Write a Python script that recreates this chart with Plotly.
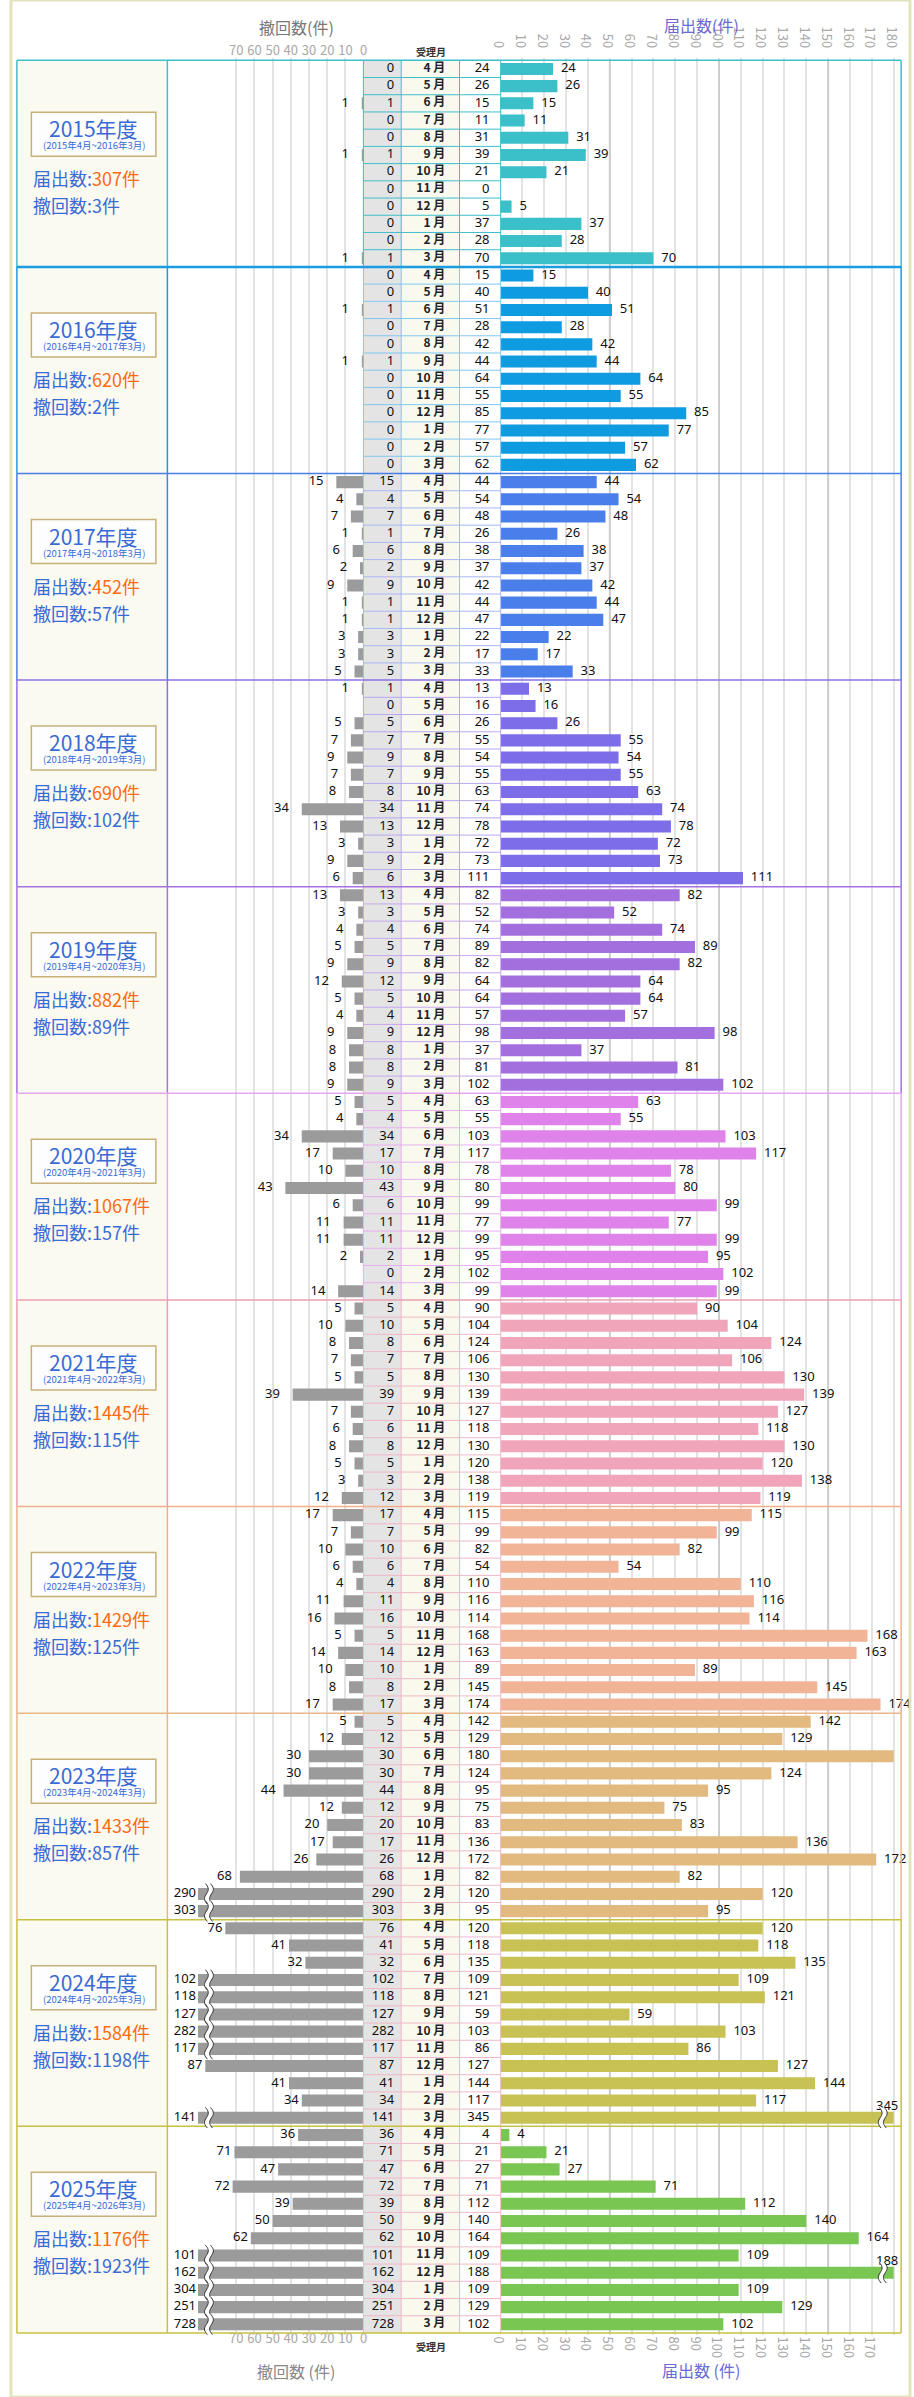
import math
import plotly.graph_objects as go

# ---------------- data ----------------
FISCAL_YEARS = [2015, 2016, 2017, 2018, 2019, 2020, 2021, 2022, 2023, 2024, 2025]
MONTHS = [4, 5, 6, 7, 8, 9, 10, 11, 12, 1, 2, 3]

filings_2015 = [24, 26, 15, 11, 31, 39, 21, 0, 5, 37, 28, 70]
filings_2016 = [15, 40, 51, 28, 42, 44, 64, 55, 85, 77, 57, 62]
filings_2017 = [44, 54, 48, 26, 38, 37, 42, 44, 47, 22, 17, 33]
filings_2018 = [13, 16, 26, 55, 54, 55, 63, 74, 78, 72, 73, 111]
filings_2019 = [82, 52, 74, 89, 82, 64, 64, 57, 98, 37, 81, 102]
filings_2020 = [63, 55, 103, 117, 78, 80, 99, 77, 99, 95, 102, 99]
filings_2021 = [90, 104, 124, 106, 130, 139, 127, 118, 130, 120, 138, 119]
filings_2022 = [115, 99, 82, 54, 110, 116, 114, 168, 163, 89, 145, 174]
filings_2023 = [142, 129, 180, 124, 95, 75, 83, 136, 172, 82, 120, 95]
filings_2024 = [120, 118, 135, 109, 121, 59, 103, 86, 127, 144, 117, 345]
filings_2025 = [4, 21, 27, 71, 112, 140, 164, 109, 188, 109, 129, 102]

withdrawals_2015 = [0, 0, 1, 0, 0, 1, 0, 0, 0, 0, 0, 1]
withdrawals_2016 = [0, 0, 1, 0, 0, 1, 0, 0, 0, 0, 0, 0]
withdrawals_2017 = [15, 4, 7, 1, 6, 2, 9, 1, 1, 3, 3, 5]
withdrawals_2018 = [1, 0, 5, 7, 9, 7, 8, 34, 13, 3, 9, 6]
withdrawals_2019 = [13, 3, 4, 5, 9, 12, 5, 4, 9, 8, 8, 9]
withdrawals_2020 = [5, 4, 34, 17, 10, 43, 6, 11, 11, 2, 0, 14]
withdrawals_2021 = [5, 10, 8, 7, 5, 39, 7, 6, 8, 5, 3, 12]
withdrawals_2022 = [17, 7, 10, 6, 4, 11, 16, 5, 14, 10, 8, 17]
withdrawals_2023 = [5, 12, 30, 30, 44, 12, 20, 17, 26, 68, 290, 303]
withdrawals_2024 = [76, 41, 32, 102, 118, 127, 282, 117, 87, 41, 34, 141]
withdrawals_2025 = [36, 71, 47, 72, 39, 50, 62, 101, 162, 304, 251, 728]

LEFT_TICKS = [0, 10, 20, 30, 40, 50, 60, 70]
RIGHT_TICKS_TOP = [0, 10, 20, 30, 40, 50, 60, 70, 80, 90, 100, 110, 120, 130, 140, 150, 160, 170, 180]
RIGHT_TICKS_BOTTOM = [0, 10, 20, 30, 40, 50, 60, 70, 80, 90, 100, 110, 120, 130, 140, 150, 160, 170]

FILINGS = [filings_2015, filings_2016, filings_2017, filings_2018, filings_2019, filings_2020,
           filings_2021, filings_2022, filings_2023, filings_2024, filings_2025]
WITHDRAWALS = [withdrawals_2015, withdrawals_2016, withdrawals_2017, withdrawals_2018,
               withdrawals_2019, withdrawals_2020, withdrawals_2021, withdrawals_2022,
               withdrawals_2023, withdrawals_2024, withdrawals_2025]

# ---------------- style ----------------
BAR_COLORS = ["#3bbfc9", "#0e9be0", "#4a7eea", "#7d6de8", "#a36fdf", "#df82ea",
              "#f0a5ba", "#f2b497", "#e2b97e", "#c8c255", "#7ac653"]
FRAME_COLORS = ["#3cc0cc", "#1b9be0", "#4a7ee8", "#8d6fe8", "#a872e0", "#e6a6f0",
                "#eb9fb0", "#f0b090", "#e8b888", "#c8c040", "#c8c040"]
CELL_COLORS = ["#3cc0cc", "#80c8f0", "#a8b8f4", "#b8a8f0", "#c8a8f0", "#e8b0f0",
               "#f0b8c8", "#f0b8c8", "#f0b8c8", "#f0b8c8", "#f0b8c8"]
FRAME_WIDTH = [1.5, 2.5, 1.5, 1.5, 1.5, 1.5, 1.5, 1.5, 1.5, 1.5, 1.5]
LEFT_LABEL_GAP = [13, 13, 13, 13, 13, 13, 13, 13, 8, 3, 3]
CAPPED_LABEL_GAP = 2
PANEL_SHIFT = [6, 0, 0, 0, 0, 0, 0, 0, 0, 0, 0]

W, H = 914, 2397
TABLE_TOP = 60.3
ROW_H = 17.217
N_SEC = len(FISCAL_YEARS)
N_ROWS = 12 * N_SEC
TABLE_BOTTOM = TABLE_TOP + N_ROWS * ROW_H
PAD = 2.0

X_FRAME_L, X_PANEL = 6.0, 159.0
X_GRAY, X_MONTH, X_COUNT, X_RB0, X_FRAME_R = 358.3, 396.7, 456.0, 497.8, 905.0
LEFT_ZERO, LEFT_PPU, LEFT_CAP, LEFT_BREAK = 358.5, 1.85, 91, 85
RIGHT_PPU, RIGHT_CAP, RIGHT_BREAK = 2.22, 180, 175

JP = "Noto Sans CJK JP"
NUM = "Noto Sans, Noto Sans CJK JP"
TICKF = "Liberation Sans Narrow, Noto Sans CJK JP"
BLUE = "#3a6bd4"
ORANGE = "#ff6a13"


def py2paper(py):
    return 1 - py / H


def off2row(s, off):
    return 12 * s - 0.5 + off / ROW_H


fig = go.Figure()

rows = [12 * s + i for s in range(N_SEC) for i in range(12)]
w_all = [v for lst in WITHDRAWALS for v in lst]
f_all = [v for lst in FILINGS for v in lst]
bar_cols = [BAR_COLORS[s] for s in range(N_SEC) for _ in range(12)]

# bars
fig.add_trace(go.Bar(orientation="h", y=rows, x=[min(v, LEFT_CAP) for v in w_all],
                     xaxis="x2", yaxis="y", width=0.7,
                     marker=dict(color="#9b9b9b", line=dict(width=0)),
                     hoverinfo="skip", showlegend=False))
fig.add_trace(go.Bar(orientation="h", y=rows, x=[min(v, RIGHT_CAP) for v in f_all],
                     xaxis="x3", yaxis="y", width=0.7,
                     marker=dict(color=bar_cols, line=dict(width=0)),
                     hoverinfo="skip", showlegend=False))

# bar labels
lx, ly, lt = [], [], []
rx, ry, rt = [], [], []
cx, cy, ct = [], [], []
for s in range(N_SEC):
    for i in range(12):
        r = 12 * s + i
        v = WITHDRAWALS[s][i]
        if v > 0:
            gap = CAPPED_LABEL_GAP if v > LEFT_CAP else LEFT_LABEL_GAP[s]
            lx.append(min(v, LEFT_CAP) + gap / LEFT_PPU)
            ly.append(r)
            lt.append(str(v))
        f = FILINGS[s][i]
        if f > RIGHT_CAP:
            cx.append(RIGHT_CAP - 3)
            cy.append(r - 0.62)
            ct.append(str(f))
        elif f > 0:
            rx.append(f + 8 / RIGHT_PPU)
            ry.append(r)
            rt.append(str(f))

lab_font = dict(family=NUM, size=13, color="#111111")
fig.add_trace(go.Scatter(x=lx, y=ly, text=lt, mode="text", textposition="middle left",
                         xaxis="x2", yaxis="y", textfont=lab_font, cliponaxis=False,
                         hoverinfo="skip", showlegend=False))
fig.add_trace(go.Scatter(x=rx, y=ry, text=rt, mode="text", textposition="middle right",
                         xaxis="x3", yaxis="y", textfont=lab_font, cliponaxis=False,
                         hoverinfo="skip", showlegend=False))
fig.add_trace(go.Scatter(x=cx, y=cy, text=ct, mode="text", textposition="middle center",
                         xaxis="x3", yaxis="y", textfont=lab_font, cliponaxis=False,
                         hoverinfo="skip", showlegend=False))

# table cell texts (pixel x-axis)
cell_font = dict(family=NUM, size=13, color="#111111")
fig.add_trace(go.Scatter(x=[389.5] * N_ROWS, y=rows, text=[str(v) for v in w_all],
                         mode="text", textposition="middle left", xaxis="x", yaxis="y",
                         textfont=cell_font, cliponaxis=False, hoverinfo="skip", showlegend=False))
fig.add_trace(go.Scatter(x=[441.5] * N_ROWS, y=rows,
                         text=[f"{m} 月" for _ in range(N_SEC) for m in MONTHS],
                         mode="text", textposition="middle left", xaxis="x", yaxis="y",
                         textfont=dict(family=JP, size=12, color="#222222", weight="bold"),
                         cliponaxis=False, hoverinfo="skip", showlegend=False))
fig.add_trace(go.Scatter(x=[486.5] * N_ROWS, y=rows, text=[str(v) for v in f_all],
                         mode="text", textposition="middle left", xaxis="x", yaxis="y",
                         textfont=cell_font, cliponaxis=False, hoverinfo="skip", showlegend=False))

# dummy traces for bottom tick axes
fig.add_trace(go.Scatter(x=[None], y=[None], xaxis="x4", yaxis="y", mode="markers",
                         hoverinfo="skip", showlegend=False))
fig.add_trace(go.Scatter(x=[None], y=[None], xaxis="x5", yaxis="y", mode="markers",
                         hoverinfo="skip", showlegend=False))

shapes = []
Y_TOP, Y_BOT = -0.5, N_ROWS - 0.5

# column fills
shapes.append(dict(type="rect", xref="x", yref="y", x0=X_FRAME_L, x1=X_PANEL, y0=Y_TOP, y1=Y_BOT,
                   fillcolor="#fafaf0", line=dict(width=0), layer="below"))
shapes.append(dict(type="rect", xref="x", yref="y", x0=X_GRAY, x1=X_MONTH, y0=Y_TOP, y1=Y_BOT,
                   fillcolor="#e4e4e4", line=dict(width=0), layer="below"))
shapes.append(dict(type="rect", xref="x", yref="y", x0=X_MONTH, x1=X_COUNT, y0=Y_TOP, y1=Y_BOT,
                   fillcolor="#f9f9ee", line=dict(width=0), layer="below"))

# darker grid lines every 50 on the right
for v in (50, 100, 150):
    shapes.append(dict(type="line", xref="x3", yref="y", x0=v, x1=v, y0=Y_TOP, y1=Y_BOT,
                       line=dict(color="#cdcdcd", width=2), layer="between"))

# cell borders
for s in range(N_SEC):
    segs = []
    for k in range(1, 12):
        yb = 12 * s - 0.5 + k
        segs.append(f"M{X_GRAY},{yb} L{X_RB0},{yb}")
    y0, y1 = 12 * s - 0.5, 12 * s + 11.5
    for xv in (X_GRAY, X_MONTH, X_COUNT, X_RB0):
        segs.append(f"M{xv},{y0} L{xv},{y1}")
    shapes.append(dict(type="path", path=" ".join(segs), xref="x", yref="y",
                       line=dict(color=CELL_COLORS[s], width=1), layer="above"))

# section frames
for s in range(N_SEC):
    y0, y1 = 12 * s - 0.5, 12 * s + 11.5
    segs = [f"M{xv},{y0} L{xv},{y1}" for xv in (X_FRAME_L, X_PANEL, X_FRAME_R)]
    shapes.append(dict(type="path", path=" ".join(segs), xref="x", yref="y",
                       line=dict(color=FRAME_COLORS[s], width=1.5), layer="above"))
for s in range(N_SEC):
    y0 = 12 * s - 0.5
    shapes.append(dict(type="line", xref="x", yref="y", x0=X_FRAME_L, x1=X_FRAME_R, y0=y0, y1=y0,
                       line=dict(color=FRAME_COLORS[s], width=FRAME_WIDTH[s]), layer="above"))
shapes.append(dict(type="line", xref="x", yref="y", x0=X_FRAME_L, x1=X_FRAME_R, y0=Y_BOT, y1=Y_BOT,
                   line=dict(color=FRAME_COLORS[-1], width=1.5), layer="above"))

# year boxes
for s in range(N_SEC):
    sh = PANEL_SHIFT[s]
    shapes.append(dict(type="rect", xref="x", yref="y", x0=20.7, x1=147.3,
                       y0=off2row(s, 46 + sh), y1=off2row(s, 90 + sh),
                       fillcolor="#fdfdfd", line=dict(color="#c8b078", width=1.5), layer="above"))


# axis-break marks
def wave(xc, ppu, row):
    n = 18
    left, right = [], []
    for k in range(n + 1):
        t = k / n
        yy = row - 0.6 + 1.2 * t
        dx = 2.4 * math.sin(2 * math.pi * t) + 2.0 * (t - 0.5)
        left.append((xc + (dx - 2.6) / ppu, yy))
        right.append((xc + (dx + 2.6) / ppu, yy))
    fill = "M" + " L".join(f"{x:.3f},{y:.3f}" for x, y in left + right[::-1]) + " Z"
    l1 = "M" + " L".join(f"{x:.3f},{y:.3f}" for x, y in left)
    l2 = "M" + " L".join(f"{x:.3f},{y:.3f}" for x, y in right)
    return fill, l1, l2


for s in range(N_SEC):
    for i in range(12):
        r = 12 * s + i
        for val, cap, brk, ppu, ax in ((WITHDRAWALS[s][i], LEFT_CAP, LEFT_BREAK, -LEFT_PPU, "x2"),
                                       (FILINGS[s][i], RIGHT_CAP, RIGHT_BREAK, RIGHT_PPU, "x3")):
            if val > cap:
                fill, l1, l2 = wave(brk, ppu, r)
                shapes.append(dict(type="path", path=fill, xref=ax, yref="y",
                                   fillcolor="white", line=dict(width=0), layer="above"))
                for p in (l1, l2):
                    shapes.append(dict(type="path", path=p, xref=ax, yref="y",
                                       line=dict(color="#333333", width=1), layer="above"))

# page border
shapes.append(dict(type="rect", xref="paper", yref="paper", x0=0, x1=1, y0=0, y1=1,
                   line=dict(color="#e4e4bc", width=3), layer="above"))

annotations = []
for s in range(N_SEC):
    sh = PANEL_SHIFT[s]
    yr = FISCAL_YEARS[s]
    annotations.append(dict(x=84, y=off2row(s, 62 + sh), xref="x", yref="y", showarrow=False,
                            xanchor="center", yanchor="middle",
                            text=f"{yr}年度", font=dict(family=JP, size=21, color=BLUE)))
    annotations.append(dict(x=84, y=off2row(s, 79 + sh), xref="x", yref="y", showarrow=False,
                            xanchor="center", yanchor="middle",
                            text=f"({yr}年4月~{yr + 1}年3月)",
                            font=dict(family=JP, size=9.5, color=BLUE)))
    annotations.append(dict(x=20, y=off2row(s, 112 + sh), xref="x", yref="y", showarrow=False,
                            xanchor="left", yanchor="middle",
                            text=f"届出数:<span style='color:{ORANGE}'>{sum(FILINGS[s])}件</span>",
                            font=dict(family=JP, size=18, color=BLUE)))
    annotations.append(dict(x=20, y=off2row(s, 139 + sh), xref="x", yref="y", showarrow=False,
                            xanchor="left", yanchor="middle", text=f"撤回数:{sum(WITHDRAWALS[s])}件",
                            font=dict(family=JP, size=18, color=BLUE)))


def head(x, y, text, size, color, bold=False):
    f = dict(family=JP, size=size, color=color)
    if bold:
        f["weight"] = "bold"
    return dict(x=x / W, y=py2paper(y), xref="paper", yref="paper", showarrow=False,
                xanchor="center", yanchor="middle", text=text, font=f)


annotations += [
    head(290, 27, "撤回数(件)", 16, "#777777"),
    head(702, 25, "届出数(件)", 16, "#6a6ad2"),
    head(427, 52, "受理月", 10, "#333333", True),
    head(427, 2346, "受理月", 10, "#333333", True),
    head(290, 2371, "撤回数 (件)", 16, "#888888"),
    head(702, 2370, "届出数 (件)", 16, "#6a6ad2"),
]

tick_font = dict(family=TICKF, size=13, color="#a8a8a8")
ydom = [1 - (TABLE_BOTTOM + PAD) / H, 1 - (TABLE_TOP - PAD) / H]
left_range = [(LEFT_ZERO - X_PANEL) / LEFT_PPU, 0]
right_range = [0, (X_FRAME_R - X_RB0) / RIGHT_PPU]
grid = dict(showgrid=True, gridcolor="#e3e3e3", gridwidth=2, zeroline=False, showline=False,
            ticks="", tickfont=tick_font, fixedrange=True)
bottom_axis = dict(anchor="free", position=py2paper(2329), side="bottom", showgrid=False,
                   zeroline=False, showline=False, ticks="", tickfont=tick_font, fixedrange=True)

fig.update_layout(
    width=W, height=H, margin=dict(l=0, r=0, t=0, b=0),
    paper_bgcolor="white", plot_bgcolor="rgba(0,0,0,0)", showlegend=False,
    yaxis=dict(domain=ydom, range=[Y_BOT + PAD / ROW_H, Y_TOP - PAD / ROW_H], visible=False,
               fixedrange=True),
    xaxis=dict(domain=[0, 1], range=[0, W], visible=False, fixedrange=True),
    xaxis2=dict(domain=[X_PANEL / W, LEFT_ZERO / W], range=left_range, anchor="y", side="top",
                tickvals=LEFT_TICKS, **grid),
    xaxis3=dict(domain=[X_RB0 / W, X_FRAME_R / W], range=right_range, anchor="y", side="top",
                tickvals=RIGHT_TICKS_TOP, **grid),
    xaxis4=dict(domain=[X_PANEL / W, LEFT_ZERO / W], range=left_range, tickvals=LEFT_TICKS,
                **bottom_axis),
    xaxis5=dict(domain=[X_RB0 / W, X_FRAME_R / W], range=right_range, tickvals=RIGHT_TICKS_BOTTOM,
                **bottom_axis),
    shapes=shapes, annotations=annotations,
)

fig.write_html("out.html", config={"displayModeBar": False},
               post_script="document.body.style.margin='0';document.body.style.overflow='hidden';")
